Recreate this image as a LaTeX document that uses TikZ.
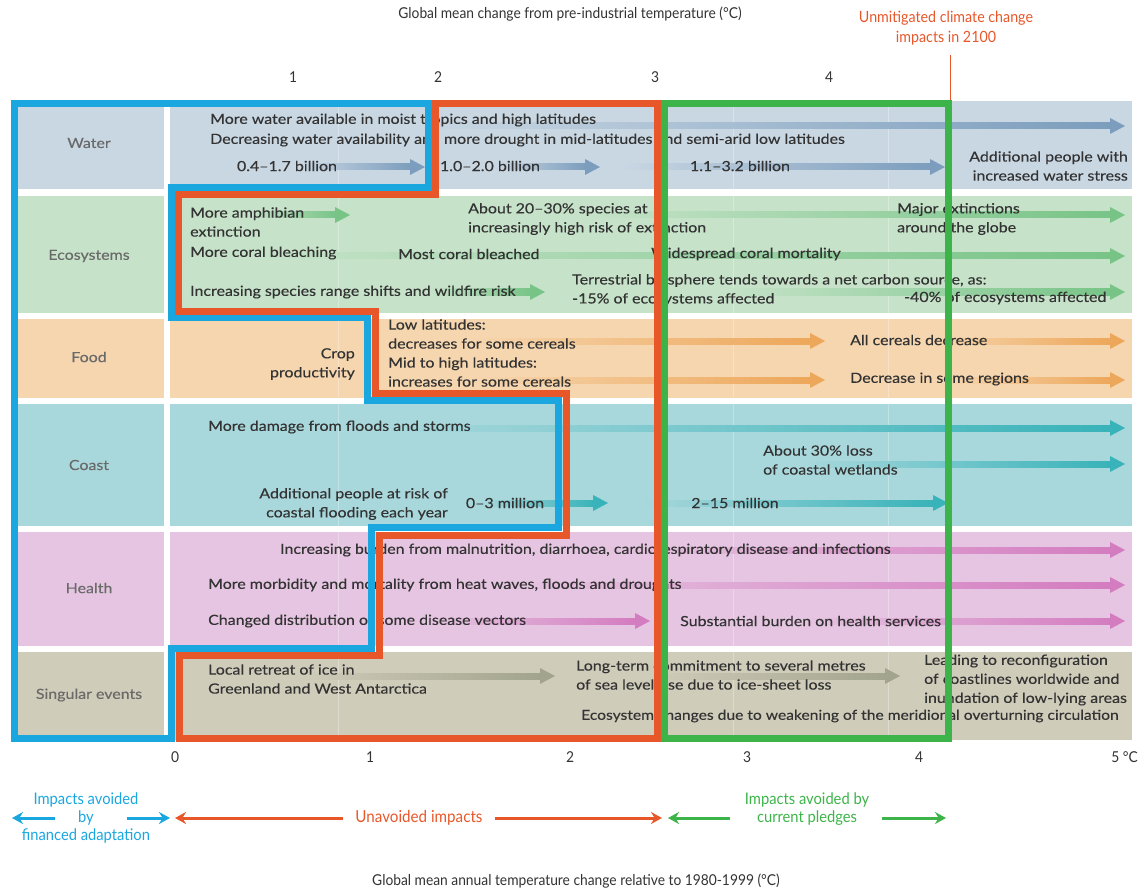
\documentclass[tikz,border=0pt]{standalone}
\usepackage{fontspec}
\setmainfont{Lato}[FakeStretch=1.14, FakeBold=0.3]
\newfontfamily\narrowfont{Lato}[FakeStretch=0.92]
\usetikzlibrary{arrows.meta}

\definecolor{waterbg}{HTML}{C9D7E3}
\definecolor{waterar}{HTML}{7C9DBD}
\definecolor{ecobg}{HTML}{C6E3C9}
\definecolor{ecoar}{HTML}{78C487}
\definecolor{foodbg}{HTML}{F6D6AF}
\definecolor{foodar}{HTML}{EDA75A}
\definecolor{coastbg}{HTML}{A9D8DC}
\definecolor{coastar}{HTML}{38B3B9}
\definecolor{healthbg}{HTML}{E5C5E1}
\definecolor{healthar}{HTML}{D47CC0}
\definecolor{singbg}{HTML}{D0CCBA}
\definecolor{singar}{HTML}{A2A48E}
\definecolor{adaptblue}{HTML}{1AA7E0}
\definecolor{unavoid}{HTML}{E8572A}
\definecolor{pledge}{HTML}{3DB44A}
\definecolor{ink}{HTML}{333333}
\definecolor{labgrey}{HTML}{6A6A6A}

% faded impact arrow: band colour, arrow colour, y, x start, x tip
\newcommand{\trend}[5]{%
  \shade[left color=#1, right color=#2] (#4,#3-3) rectangle (#5-14,#3+3);
  \fill[#2] (#5-15,#3-8) -- (#5,#3) -- (#5-15,#3+8) -- cycle;
}

\tikzset{
  txt/.style={text=ink, font=\fontsize{14}{19}\selectfont, inner sep=0pt, align=left},
  lab/.style={text=labgrey, font=\fontsize{14}{19}\selectfont, inner sep=0pt},
  axis/.style={text=ink, font=\narrowfont\fontsize{15}{16}\selectfont, inner sep=0pt},
  frame/.style={line width=7pt, line join=miter},
  legend/.style={line width=3pt, -{Stealth[length=11pt,width=12pt]}},
}

\begin{document}
\begin{tikzpicture}[x=1pt, y=-1pt]
\useasboundingbox (0,0) rectangle (1140,893);

% row bands
\fill[waterbg]  (14,101) rectangle (164,189);  \fill[waterbg]  (170,101) rectangle (1132,189);
\fill[ecobg]    (14,196) rectangle (164,313);  \fill[ecobg]    (170,196) rectangle (1132,313);
\fill[foodbg]   (14,319) rectangle (164,398);  \fill[foodbg]   (170,319) rectangle (1132,398);
\fill[coastbg]  (14,404) rectangle (164,526);  \fill[coastbg]  (170,404) rectangle (1132,526);
\fill[healthbg] (14,532) rectangle (164,646);  \fill[healthbg] (170,532) rectangle (1132,646);
\fill[singbg]   (14,652) rectangle (164,740);  \fill[singbg]   (170,652) rectangle (1132,740);

% faint grid
\foreach \gx in {338,733,888}
  \draw[white, opacity=0.3, line width=1pt] (\gx,101) -- (\gx,740);

% arrows
\trend{waterbg}{waterar}{126}{420}{1125}
\trend{waterbg}{waterar}{167}{300}{425}
\trend{waterbg}{waterar}{167}{495}{600}
\trend{waterbg}{waterar}{167}{620}{945}

\trend{ecobg}{ecoar}{215}{250}{350}
\trend{ecobg}{ecoar}{215}{580}{1125}
\trend{ecobg}{ecoar}{256}{250}{1125}
\trend{ecobg}{ecoar}{292}{430}{545}
\trend{ecobg}{ecoar}{292}{720}{1125}

\trend{foodbg}{foodar}{341}{470}{825}
\trend{foodbg}{foodar}{341}{930}{1125}
\trend{foodbg}{foodar}{380}{470}{825}
\trend{foodbg}{foodar}{380}{950}{1125}

\trend{coastbg}{coastar}{428}{380}{1125}
\trend{coastbg}{coastar}{464}{800}{1125}
\trend{coastbg}{coastar}{503}{480}{608}
\trend{coastbg}{coastar}{503}{640}{948}

\trend{healthbg}{healthar}{550}{600}{1125}
\trend{healthbg}{healthar}{585}{500}{1125}
\trend{healthbg}{healthar}{621}{430}{650}
\trend{healthbg}{healthar}{621}{800}{1125}

\trend{singbg}{singar}{676}{300}{555}
\trend{singbg}{singar}{676}{650}{900}

% row labels
\node[lab] (water)  at (89,143) {Water};
\node[lab] (eco)    at (89,256) {Ecosystems};
\node[lab] (food)   at (89,357) {Food};
\node[lab] (coast)  at (89,465) {Coast};
\node[lab] (health) at (89,588) {Health};
\node[lab] (sing)   at (89,695) {Singular events};

% water
\node[txt, anchor=west] (w1) at (210,120) {More water available in moist tropics and high latitudes};
\node[txt, anchor=west] (w2) at (210,140) {Decreasing water availability and more drought in mid-latitudes and semi-arid low latitudes};
\node[txt] (w3) at (287,166) {0.4--1.7 billion};
\node[txt] (w4) at (490,166) {1.0--2.0 billion};
\node[txt] (w5) at (740,166) {1.1--3.2 billion};
\node[txt, anchor=east, align=right] (w6) at (1128,166) {Additional people with\\increased water stress};

% ecosystems
\node[txt, anchor=west] (e1) at (190,222) {More amphibian\\extinction};
\node[txt, anchor=west] (e2) at (468,219) {About 20--30\% species at\\increasingly high risk of extinction};
\node[txt, anchor=west] (e3) at (897,219) {Major extinctions\\around the globe};
\node[txt, anchor=west] (e4) at (190,253) {More coral bleaching};
\node[txt, anchor=west] (e5) at (398,254) {Most coral bleached};
\node[txt, anchor=west] (e6) at (651,254) {Widespread coral mortality};
\node[txt, anchor=west] (e7) at (190,292) {Increasing species range shifts and wildfire risk};
\node[txt, anchor=west] (e8) at (572,290) {Terrestrial biosphere tends towards a net carbon source, as:\\-15\% of ecosystems affected};
\node[txt, anchor=west] (e9) at (904,298) {-40\% of ecosystems affected};

% food
\node[txt, anchor=east, align=right] (f1) at (355,364) {Crop\\productivity};
\node[txt, anchor=west] (f2) at (388,334) {Low latitudes:\\decreases for some cereals};
\node[txt, anchor=west] (f3) at (388,372) {Mid to high latitudes:\\increases for some cereals};
\node[txt, anchor=west] (f4) at (850,340) {All cereals decrease};
\node[txt, anchor=west] (f5) at (850,379) {Decrease in some regions};

% coast
\node[txt, anchor=west] (c1) at (208,427) {More damage from floods and storms};
\node[txt, anchor=west] (c2) at (763,460) {About 30\% loss\\of coastal wetlands};
\node[txt, anchor=east, align=right] (c3) at (448,504) {Additional people at risk of\\coastal flooding each year};
\node[txt] (c4) at (505,503) {0--3 million};
\node[txt] (c5) at (735,503) {2--15 million};

% health
\node[txt, anchor=west] (h1) at (280,550) {Increasing burden from malnutrition, diarrhoea, cardiorespiratory disease and infections};
\node[txt, anchor=west] (h2) at (208,585) {More morbidity and mortality from heat waves, floods and droughts};
\node[txt, anchor=west] (h3) at (208,621) {Changed distribution of some disease vectors};
\node[txt, anchor=west] (h4) at (680,621) {Substantial burden on health services};

% singular events
\node[txt, anchor=west] (s1) at (208,679) {Local retreat of ice in\\Greenland and West Antarctica};
\node[txt, anchor=west] (s2) at (576,675) {Long-term commitment to several metres\\of sea level rise due to ice-sheet loss};
\node[txt, anchor=west] (s3) at (924,680) {Leading to reconfiguration\\of coastlines worldwide and\\inundation of low-lying areas};
\node[txt, anchor=west, font=\fontsize{13.7}{19}\selectfont] (s4) at (581,716) {Ecosystem changes due to weakening of the meridional overturning circulation};

% frames
\draw[frame, adaptblue] (14,104) -- (428,104) -- (428,188) -- (171,188) -- (171,317) -- (367,317)
  -- (367,400) -- (558,400) -- (558,527) -- (371,527) -- (371,648) -- (171,648) -- (171,738)
  -- (14,738) -- cycle;
\draw[frame, unavoid] (435,104) -- (657,104) -- (657,738) -- (179,738) -- (179,655) -- (379,655)
  -- (379,535) -- (566,535) -- (566,393) -- (375,393) -- (375,311) -- (178,311) -- (178,195)
  -- (435,195) -- cycle;
\draw[frame, pledge] (664,104) rectangle (948,738);
\draw[unavoid, line width=1pt] (950,55) -- (950,100);

% axes
\node[axis] (top) at (570,14) {Global mean change from pre-industrial temperature (°C)};
\node[text=unavoid, font=\narrowfont\fontsize{15.5}{20}\selectfont, align=center, inner sep=0pt] (unmit) at (946,28) {Unmitigated climate change\\impacts in 2100};
\node[axis] (t1) at (293,77) {1};
\node[axis] (t2) at (438,77) {2};
\node[axis] (t3) at (655,77) {3};
\node[axis] (t4) at (829,77) {4};
\node[axis] (b0) at (175,757) {0};
\node[axis] (b1) at (370,757) {1};
\node[axis] (b2) at (570,757) {2};
\node[axis] (b3) at (747,757) {3};
\node[axis] (b4) at (919,757) {4};
\node[axis, anchor=east] (b5) at (1138,757) {5 °C};
\node[axis] (bottom) at (576,881) {Global mean annual temperature change relative to 1980-1999 (°C)};

% legend
\node[text=adaptblue, font=\narrowfont\fontsize{16}{18}\selectfont, align=center, inner sep=0pt] (adapt) at (86,818) {Impacts avoided\\by\\financed adaptation};
\coordinate (al1) at (55,818); \coordinate (al2) at (12,818);
\coordinate (ar1) at (127,818); \coordinate (ar2) at (170,818);
\draw[legend, adaptblue] (al1) -- (al2);
\draw[legend, adaptblue] (ar1) -- (ar2);
\node[text=unavoid, font=\narrowfont\fontsize{16.5}{18}\selectfont, inner sep=0pt] (unav) at (419,818) {Unavoided impacts};
\coordinate (ul) at (175,818); \coordinate (ur) at (662,818);
\draw[legend, unavoid] (unav.west) ++(-12,0) -- (ul);
\draw[legend, unavoid] (unav.east) ++(12,0) -- (ur);
\node[text=pledge, font=\narrowfont\fontsize{16}{18}\selectfont, align=center, inner sep=0pt] (pled) at (807,809) {Impacts avoided by\\current pledges};
\coordinate (gl) at (668,818); \coordinate (gr) at (946,818);
\draw[legend, pledge] (730,818) -- (gl);
\draw[legend, pledge] (882,818) -- (gr);
\end{tikzpicture}
\end{document}
